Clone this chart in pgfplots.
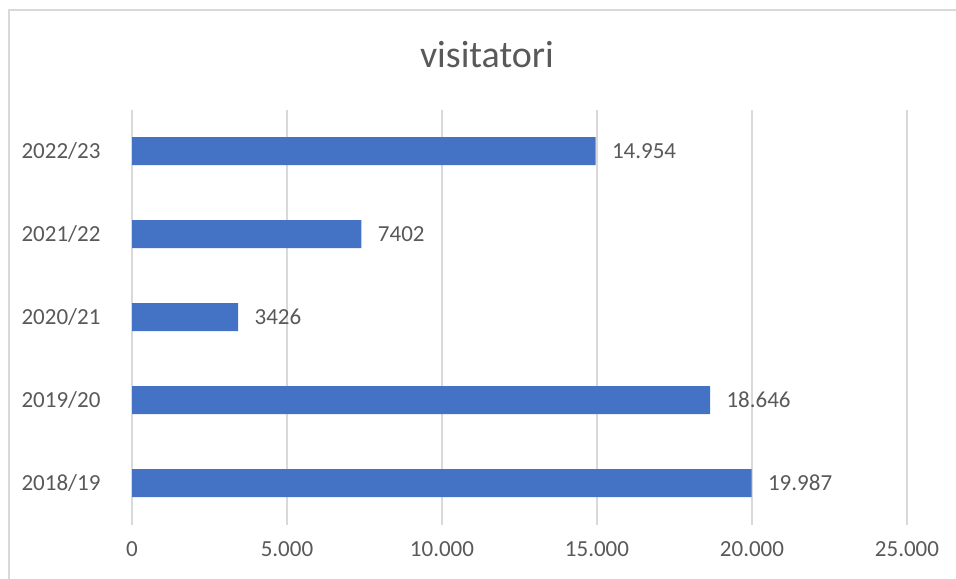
\documentclass[border=0pt]{standalone}
\usepackage{pgfplots}
\pgfplotsset{compat=1.18}
\usepackage{fontspec}
\setmainfont{Carlito}
\definecolor{barc}{HTML}{4472C4}
\definecolor{txt}{HTML}{595959}
\definecolor{gridc}{HTML}{D9D9D9}
\begin{document}
\begin{tikzpicture}[x=1pt,y=1pt]
\useasboundingbox (0,0) rectangle (478,289);
\clip (0,0) rectangle (478,289);
\draw[gridc, line width=0.75pt] (4.5,-10) rectangle (490,284);
\node[txt, font=\fontsize{19}{22}\selectfont] at (243.5,261.5) {visitatori};
\begin{axis}[at={(66pt,26.75pt)}, anchor=south west, scale only axis,
  width=387.5pt, height=207.5pt,
  xbar, bar width=14pt,
  xmin=0, xmax=25000, ymin=-0.5, ymax=4.5,
  ytick={0,1,2,3,4},
  yticklabels={2018/19,2019/20,2020/21,2021/22,2022/23},
  xtick={0,5000,10000,15000,20000,25000},
  scaled x ticks=false,
  xmajorgrids, grid style={gridc, line width=0.75pt},
  axis line style={draw=none}, tick style={draw=none},
  ticklabel style={txt, font=\fontsize{11.5}{13}\selectfont},
  xticklabel style={yshift=-5pt},
  yticklabel style={xshift=-8pt},
  /pgf/number format/1000 sep={.},
  /pgf/number format/assume math mode=true,
  nodes near coords, point meta=explicit symbolic,
  nodes near coords style={txt, font=\fontsize{11.5}{13}\selectfont, anchor=west, xshift=4.7pt},
]
\addplot[fill=barc, draw=none] table[x=v, y=c, meta=l, row sep=\\] {
c v l\\
0 19987 19.987\\
1 18646 18.646\\
2 3426 3426\\
3 7402 7402\\
4 14954 14.954\\
};
\end{axis}
\end{tikzpicture}
\end{document}
